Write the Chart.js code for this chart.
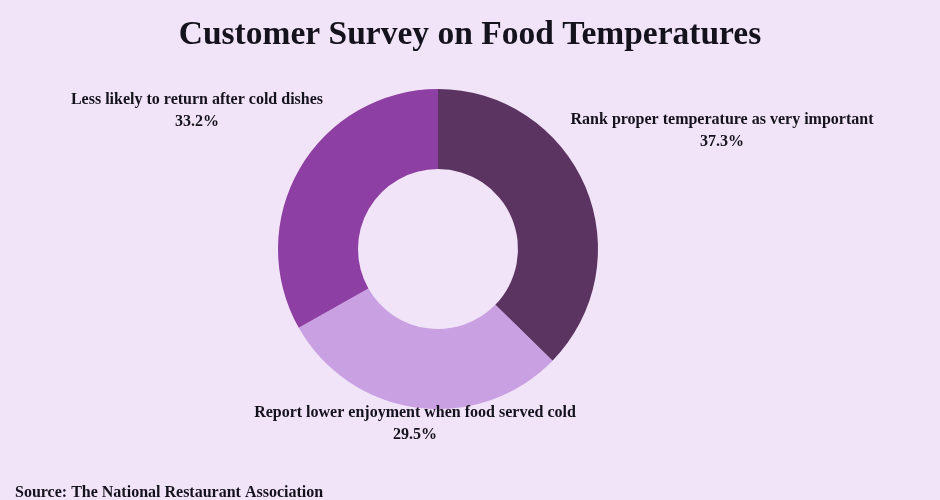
<!DOCTYPE html>
<html>
<head>
<meta charset="utf-8">
<script src="https://cdn.jsdelivr.net/npm/chart.js@4.4.1/dist/chart.umd.min.js"></script>
<style>
  html, body { margin: 0; padding: 0; background: #f2e4f8; }
  #wrap { width: 940px; height: 500px; position: relative; }
</style>
</head>
<body>
<div id="wrap"><canvas id="c" width="940" height="500"></canvas></div>
<script>
const categories = [
  "Rank proper temperature as very important",
  "Report lower enjoyment when food served cold",
  "Less likely to return after cold dishes"
];
const values = [37.3, 29.5, 33.2];
const sliceColors = ["#5c3462", "#c9a0e2", "#8e3fa3"];
const titleText = "Customer Survey on Food Temperatures";
const sourceText = "Source: The National Restaurant Association";

// label anchor offsets (from doughnut centre), style only
const labelOffsets = [[284, -129], [-23, 164], [-241, -149]];

const textPlugin = {
  id: 'texts',
  afterDraw(chart) {
    const ctx = chart.ctx;
    const meta = chart.getDatasetMeta(0);
    const arc0 = meta.data[0];
    const cx = arc0.x, cy = arc0.y;
    ctx.save();
    ctx.fillStyle = '#14121c';
    ctx.textAlign = 'center';
    ctx.textBaseline = 'middle';
    ctx.font = "bold 33.5px 'Liberation Serif', serif";
    ctx.fillText(titleText, 470, 35);
    ctx.font = "bold 16px 'Liberation Serif', serif";
    meta.data.forEach((arc, i) => {
      const [dx, dy] = labelOffsets[i];
      ctx.fillText(categories[i], cx + dx, cy + dy);
      ctx.fillText(values[i].toFixed(1) + '%', cx + dx, cy + dy + 22);
    });
    ctx.textAlign = 'left';
    ctx.font = "bold 16px 'Liberation Serif', serif";
    ctx.fillText(sourceText, 15, 493);
    ctx.restore();
  }
};

const bgPlugin = {
  id: 'bg',
  beforeDraw(chart) {
    const ctx = chart.ctx;
    ctx.save();
    ctx.fillStyle = '#f2e4f8';
    ctx.fillRect(0, 0, chart.width, chart.height);
    ctx.restore();
  }
};

new Chart(document.getElementById('c'), {
  type: 'doughnut',
  data: {
    labels: categories,
    datasets: [{
      data: values,
      backgroundColor: sliceColors,
      borderWidth: 0,
      hoverOffset: 0
    }]
  },
  options: {
    responsive: false,
    animation: false,
    cutout: '50%',
    layout: { padding: { top: 89, bottom: 91, left: 0, right: 64 } },
    plugins: {
      legend: { display: false },
      title: { display: false },
      tooltip: { enabled: false }
    }
  },
  plugins: [bgPlugin, textPlugin]
});
</script>
</body>
</html>
